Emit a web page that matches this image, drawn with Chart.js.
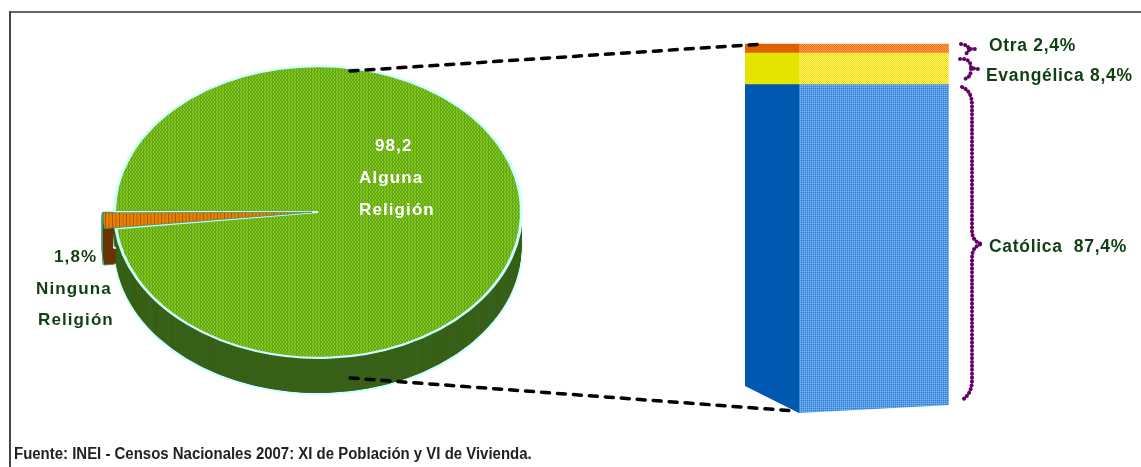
<!DOCTYPE html>
<html>
<head>
<meta charset="utf-8">
<script src="https://cdn.jsdelivr.net/npm/chart.js@4"></script>
<style>
    html, body { margin: 0; padding: 0; background: #fff; overflow: hidden; }
    #page { position: relative; width: 1141px; height: 467px; font-family: "Liberation Sans", Arial, sans-serif; }
    #page canvas { position: absolute; left: 0; top: 0; }
    .frameTop { position: absolute; left: 9px; top: 11px; width: 1132px; height: 2px; background: #666; }
    .frameLeft { position: absolute; left: 9px; top: 11px; width: 2px; height: 456px; background: #444; }
    .label { position: absolute; white-space: pre; font-weight: bold; font-size: 17px; line-height: 20px; color: #0f3f12; letter-spacing: 1.1px; }
    .right { font-size: 17.5px; letter-spacing: 0.7px; }
    .white { color: #fff; }
    .source { position: absolute; left: 14px; top: 445px; white-space: pre; font-weight: bold; font-size: 16px; line-height: 18px; color: #222; transform: scaleX(0.935); transform-origin: left center; }
</style>
</head>
<body>
<div id="page">
    <canvas id="pieChart" width="1141" height="467"></canvas>
    <canvas id="barChart" width="1141" height="467"></canvas>
    <div class="frameTop"></div>
    <div class="frameLeft"></div>
    <div class="label white" style="left:375px;top:136px">98,2</div>
    <div class="label white" style="left:359px;top:168px">Alguna</div>
    <div class="label white" style="left:359px;top:200px">Religión</div>
    <div class="label" style="left:54px;top:247px">1,8%</div>
    <div class="label" style="left:36px;top:279px">Ninguna</div>
    <div class="label" style="left:38px;top:310px">Religión</div>
    <div class="label right" style="left:989px;top:35px">Otra 2,4%</div>
    <div class="label right" style="left:986px;top:65px">Evangélica 8,4%</div>
    <div class="label right" style="left:989px;top:236px">Católica  87,4%</div>
    <div class="source">Fuente: INEI - Censos Nacionales 2007: XI de Población y VI de Vivienda.</div>
</div>
<script>
    const pieLabels = ['Alguna Religión', 'Ninguna Religión'];
    const pieValues = [98.2, 1.8];

    const barLabels = ['Católica', 'Evangélica', 'Otra'];
    const barValues = [87.4, 8.4, 2.4];

    const barFrontColors = ['#0058b0', '#e4e400', '#e06000'];

    const pieCenter = { x: 318, y: 212 };
    const pieSquash = 0.717;
    const pieDepth = 36;

    // small dither tiles, the original fills are all hatched
    const makePattern = (rows, colors) => {
        const tile = document.createElement('canvas');
        tile.width = rows[0].length;
        tile.height = rows.length;
        const tileCtx = tile.getContext('2d');
        rows.forEach((row, y) => {
            [...row].forEach((c, x) => {
                tileCtx.fillStyle = colors[c];
                tileCtx.fillRect(x, y, 1, 1);
            });
        });
        return document.getElementById('pieChart').getContext('2d').createPattern(tile, 'repeat');
    };

    const unsquash = (pattern) => {
        pattern.setTransform(new DOMMatrix().scale(1, 1 / pieSquash));
        return pattern;
    };

    const greenFill = unsquash(makePattern(['aab', 'baa', 'aab', 'aba'], { a: '#9ccc00', b: '#1f8a50' }));
    const wallFill = unsquash(makePattern(['aab', 'baa', 'aab', 'aba'], { a: '#3e5c08', b: '#2c6a38' }));
    const sliceFill = unsquash(makePattern(['aabbaac'], { a: '#e88000', b: '#d87000', c: '#a85a08' }));

    const blueFill = makePattern(['ab', 'ca'], { a: '#4f98e6', b: '#3a80d8', c: '#84b8ee' });
    const yellowFill = makePattern(['ab', 'ba'], { a: '#ffff50', b: '#f4d030' });
    const orangeFill = makePattern(['ab', 'ba'], { a: '#ff6a00', b: '#f0a060' });
    const barSideColors = [blueFill, yellowFill, orangeFill];

    // squashes the round pie into an ellipse and draws the side wall under it
    const tiltPlugin = {
        id: 'tilt',
        beforeDatasetsDraw(chart) {
            const ctx = chart.ctx;
            const arcs = chart.getDatasetMeta(0).data;
            const place = (ctx, arc, dy) => {
                ctx.translate(pieCenter.x, pieCenter.y + dy);
                ctx.scale(1, pieSquash);
                ctx.translate(-arc.x, -arc.y);
            };
            const drawWith = (arc, fill, border, width, dy) => {
                const saved = arc.options;
                arc.options = { ...saved, backgroundColor: fill, borderColor: border, borderWidth: width };
                ctx.save();
                place(ctx, arc, dy);
                arc.draw(ctx);
                ctx.restore();
                arc.options = saved;
            };
            // slice wall: green edge with brown inside
            for (let d = pieDepth; d >= 0; d -= 1) drawWith(arcs[1], '#3f9a6e', '#3f9a6e', 3, d);
            for (let d = pieDepth; d > 0; d -= 1) drawWith(arcs[1], '#6a3300', '#6a3300', 0, d);
            drawWith(arcs[0], wallFill, '#ccffff', 3, pieDepth);
            for (let d = pieDepth - 1; d > 0; d -= 1) drawWith(arcs[0], wallFill, wallFill, 0, d);
            ctx.save();
            place(ctx, arcs[0], 0);
        },
        afterDatasetsDraw(chart) {
            chart.ctx.restore();
        }
    };

    // cuts the slanted foot of the column
    const footPlugin = {
        id: 'foot',
        beforeDatasetsDraw(chart) {
            const ctx = chart.ctx;
            ctx.save();
            ctx.beginPath();
            ctx.moveTo(745, 0);
            ctx.lineTo(950, 0);
            ctx.lineTo(950, 405);
            ctx.lineTo(799, 413);
            ctx.lineTo(745, 386);
            ctx.closePath();
            ctx.clip();
        },
        afterDatasetsDraw(chart) {
            chart.ctx.restore();
        }
    };

    // leader lines from the pie to the column and the dotted braces
    const notesPlugin = {
        id: 'notes',
        afterDraw(chart) {
            const ctx = chart.ctx;
            ctx.save();
            ctx.strokeStyle = '#000';
            ctx.lineWidth = 3.5;
            ctx.lineCap = 'round';
            ctx.setLineDash([8, 8]);
            ctx.beginPath();
            ctx.moveTo(350, 71);
            ctx.lineTo(763, 44);
            ctx.moveTo(350, 378);
            ctx.lineTo(795, 411);
            ctx.stroke();

            ctx.strokeStyle = '#660066';
            ctx.lineWidth = 4;
            ctx.setLineDash([0.1, 3.8]);
            ctx.beginPath();
            // Otra
            ctx.moveTo(961, 44);
            ctx.quadraticCurveTo(968, 45, 969, 49);
            ctx.lineTo(975, 49);
            ctx.moveTo(969, 50);
            ctx.quadraticCurveTo(968, 53, 965, 54);
            // Evangélica
            ctx.moveTo(960, 59);
            ctx.quadraticCurveTo(971, 58, 971, 68);
            ctx.lineTo(978, 69);
            ctx.moveTo(971, 69);
            ctx.quadraticCurveTo(971, 78, 964, 79);
            // Católica
            ctx.moveTo(962, 87);
            ctx.quadraticCurveTo(972, 91, 972, 105);
            ctx.lineTo(972, 230);
            ctx.quadraticCurveTo(972, 242, 982, 244);
            ctx.quadraticCurveTo(972, 246, 972, 258);
            ctx.lineTo(972, 380);
            ctx.quadraticCurveTo(972, 394, 962, 400);
            ctx.stroke();
            ctx.restore();
        }
    };

    new Chart(document.getElementById('pieChart'), {
        type: 'pie',
        data: {
            labels: pieLabels,
            datasets: [{
                data: pieValues,
                backgroundColor: [greenFill, sliceFill],
                borderColor: ['#ccffff', '#3f9a6e'],
                borderWidth: [3, 1],
                offset: [0, 24],
                radius: 203.5,
                rotation: 270,
                clip: false
            }]
        },
        options: {
            responsive: false,
            animation: false,
            layout: { padding: { right: 505 } },
            plugins: { legend: { display: false }, tooltip: { enabled: false } }
        },
        plugins: [tiltPlugin]
    });

    // front face in the first category, side face in the second
    const barDatasets = [];
    barValues.forEach((value, i) => {
        barDatasets.push({
            label: barLabels[i],
            data: [value, null],
            backgroundColor: barFrontColors[i],
            barThickness: 54,
            clip: false
        });
        barDatasets.push({
            label: barLabels[i],
            data: [null, value],
            backgroundColor: barSideColors[i],
            barThickness: 149,
            clip: false
        });
    });

    new Chart(document.getElementById('barChart'), {
        type: 'bar',
        data: {
            labels: ['frente', 'lado'],
            datasets: barDatasets
        },
        options: {
            responsive: false,
            animation: false,
            layout: { padding: { left: 721, right: 216, top: 44, bottom: 54 } },
            scales: {
                x: { stacked: true, display: false },
                y: { stacked: true, display: false, min: 0, max: 98.2 }
            },
            plugins: { legend: { display: false }, tooltip: { enabled: false } }
        },
        plugins: [footPlugin, notesPlugin]
    });
</script>
</body>
</html>
